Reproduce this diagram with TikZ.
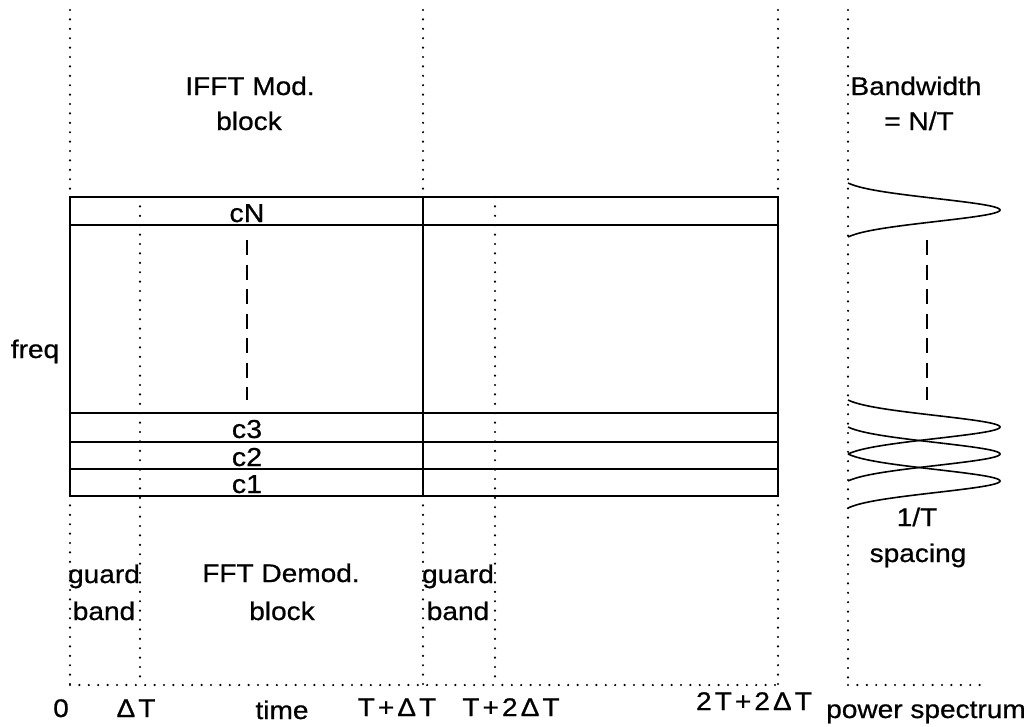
\documentclass[tikz,border=0pt]{standalone}
\usepackage{fontspec}
\setmainfont{Liberation Sans}[FakeStretch=1.1, FakeBold=0.7]
\usetikzlibrary{positioning}
\newcommand{\esp}{\hspace{0.12em}}

\begin{document}
\begin{tikzpicture}[x=1pt, y=-1pt, font=\fontsize{25.5}{30}\selectfont,
  linea/.style={line width=1.6pt},
  punteado/.style={line width=2.4pt, line cap=round, dash pattern=on 0pt off 9.4pt},
  rayado/.style={line width=1.6pt, dash pattern=on 15pt off 9.5pt},
  etiq/.style={anchor=base, inner sep=0pt},
  canal/.style={etiq, font=\fontsize{26}{28}\selectfont}]
  \useasboundingbox (0,0) rectangle (1032,726);
  % ejes punteados
  \draw[punteado] (70,10) -- (70,197) (70,496) -- (70,685);
  \draw[punteado] (140,197) -- (140,685);
  \draw[punteado] (423,10) -- (423,197) (423,496) -- (423,685);
  \draw[punteado] (495,197) -- (495,685);
  \draw[punteado] (778,10) -- (778,197) (778,496) -- (778,685);
  \draw[punteado] (70,685) -- (778,685);
  \draw[punteado] (848,10) -- (848,685);
  \draw[punteado] (848,685) -- (983,685);
  % bloques de simbolos
  \draw[linea] (70,197) rectangle (778,496);
  \draw[linea] (423,197) -- (423,496);
  \foreach \yy in {225,413,442,469}
    \draw[linea] (70,\yy) -- (778,\yy);
  \draw[rayado] (247,240) -- (247,400);
  \node[canal] (cN) at (247,222) {cN};
  \node[canal] (c3) at (247,438) {c3};
  \node[canal] (c2) at (247,466) {c2};
  \node[canal] (c1) at (247,493) {c1};
  % espectro
  \foreach \yc in {210,427,454,481}
    \draw[linea] plot[domain=-27:27, samples=61, smooth]
      ({848+152*(exp(-((\x)^2)/264)-0.063)/0.937}, {\yc+(\x)});
  \draw[rayado] (927,240) -- (927,400);
  % textos
  \node[etiq] (ifft) at (250,95) {IFFT Mod.};
  \node[etiq] (ifftb) at (249,130) {block};
  \node[etiq] (bw) at (916,95) {Bandwidth};
  \node[etiq] (bwb) at (919,130) {= N/T};
  \node[etiq] (freq) at (35,358) {freq};
  \node[etiq] (guarda1) at (104,583) {guard};
  \node[etiq] (banda1) at (104,620) {band};
  \node[etiq] (fft) at (281,582) {FFT Demod.};
  \node[etiq] (fftb) at (282,620) {block};
  \node[etiq] (guarda2) at (458,583) {guard};
  \node[etiq] (banda2) at (458,620) {band};
  \node[etiq] (unoT) at (917,526) {1/T};
  \node[etiq] (espaciado) at (918,562) {spacing};
  % eje de tiempo
  \node[etiq] (t0) at (61,717) {0};
  \node[etiq] (tdT) at (136,717) {Δ\esp T};
  \node[etiq] (tiempo) at (282,719) {time};
  \node[etiq] (tTdT) at (397,716) {T\esp+\esp Δ\esp T};
  \node[etiq] (tT2dT) at (511,716) {T\esp+\esp 2\esp Δ\esp T};
  \node[etiq] (t2T) at (754,710) {2\esp T\esp+\esp 2\esp Δ\esp T};
  \node[etiq] (espectro) at (926,718) {power spectrum};
\end{tikzpicture}
\end{document}
